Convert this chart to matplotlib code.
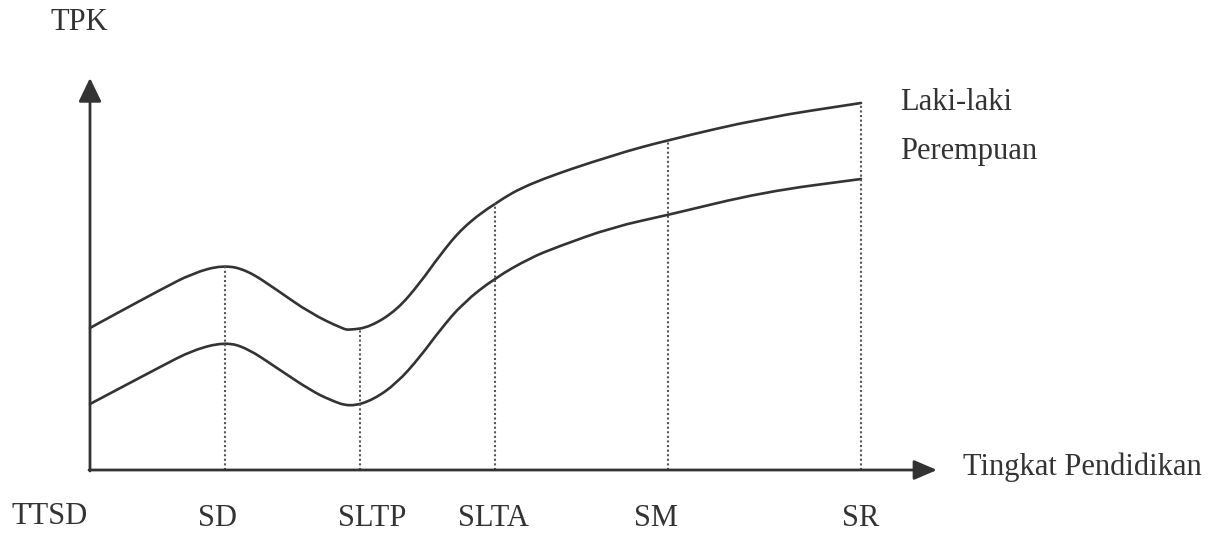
import numpy as np
import matplotlib
matplotlib.use('Agg')
import matplotlib.pyplot as plt
from matplotlib.path import Path
from matplotlib.patches import PathPatch

# education levels and where they sit on the x axis
levels = ['SD', 'SLTP', 'SLTA', 'SM', 'SR']
level_x = [1.35, 2.70, 4.05, 5.78, 7.71]

# TPK curve for men (Laki-laki)
laki_x = [0, 0.20, 0.70, 1.03, 1.33, 1.57, 1.87, 2.20, 2.53, 2.60, 2.80,
          3.07, 3.30, 3.50, 3.73, 4.05, 4.40, 5.23, 5.78, 6.73, 7.71]
laki_y = [1.42, 1.53, 1.80, 1.97, 2.05, 2.00, 1.80, 1.57, 1.41, 1.40, 1.43,
          1.60, 1.87, 2.15, 2.43, 2.67, 2.87, 3.15, 3.30, 3.52, 3.67]

# TPK curve for women (Perempuan)
perem_x = [0, 0.70, 1.03, 1.35, 1.57, 1.87, 2.20, 2.40, 2.60, 2.83, 3.07,
           3.30, 3.50, 3.73, 4.05, 4.40, 4.67, 5.23, 5.78, 6.73, 7.71]
perem_y = [0.66, 1.03, 1.20, 1.28, 1.22, 1.02, 0.80, 0.70, 0.63, 0.70, 0.87,
           1.13, 1.40, 1.67, 1.92, 2.12, 2.23, 2.43, 2.55, 2.78, 2.91]

ink = '#333333'
plt.rcParams['font.family'] = ['Liberation Serif', 'DejaVu Serif']
fs = 22


def smooth_path(xs, ys):
    # quadratic bezier chain through midpoints, drawn by matplotlib
    pts = np.column_stack([xs, ys])
    verts = [pts[0], (pts[0] + pts[1]) / 2]
    codes = [Path.MOVETO, Path.LINETO]
    for i in range(1, len(pts) - 1):
        verts += [pts[i], (pts[i] + pts[i + 1]) / 2]
        codes += [Path.CURVE3, Path.CURVE3]
    verts.append(pts[-1])
    codes.append(Path.LINETO)
    return Path(verts, codes)


fig = plt.figure(figsize=(12.28, 5.33), dpi=100)
ax = fig.add_axes([0, 0, 1, 1])
ax.set_xlim(-0.90, 11.38)
ax.set_ylim(-0.63, 4.70)
ax.axis('off')

# axes with arrows
ax.annotate('', xy=(0, 3.92), xytext=(0, -0.01),
            arrowprops=dict(arrowstyle='-|>,head_length=1.45,head_width=0.7',
                            mutation_scale=10, lw=2, color=ink, shrinkA=0, shrinkB=0))
ax.annotate('', xy=(8.47, 0), xytext=(-0.01, 0),
            arrowprops=dict(arrowstyle='-|>,head_length=1.4,head_width=0.6',
                            mutation_scale=10, lw=2, color=ink, shrinkA=0, shrinkB=0))

# dotted guides up to the upper curve
tops = np.interp(level_x, laki_x, laki_y)
for lx, top in zip(level_x, tops):
    ax.plot([lx, lx], [0, top], color='#555555', lw=1.5, ls=(0, (1, 1.2)))

for xs, ys in [(laki_x, laki_y), (perem_x, perem_y)]:
    ax.add_patch(PathPatch(smooth_path(xs, ys), fill=False, ec=ink, lw=1.9,
                           capstyle='round', joinstyle='round'))

# labels (the typed labels sit a little off the guide lines in the scan)
label_shift = [-0.08, 0.12, -0.02, -0.12, 0.0]
ax.text(-0.11, 4.47, 'TPK', fontsize=fs, color=ink, ha='center', va='center')
ax.text(-0.40, -0.47, 'TTSD', fontsize=fs, color=ink, ha='center', va='center')
for lab, lx, dx in zip(levels, level_x, label_shift):
    ax.text(lx + dx, -0.48, lab, fontsize=fs, color=ink, ha='center', va='center')
ax.text(8.73, 0.03, 'Tingkat Pendidikan', fontsize=fs, color=ink, ha='left', va='center')
ax.text(8.10, 3.68, 'Laki-laki', fontsize=fs, color=ink, ha='left', va='center')
ax.text(8.10, 3.18, 'Perempuan', fontsize=fs, color=ink, ha='left', va='center')

fig.savefig('out.png', dpi=100)
